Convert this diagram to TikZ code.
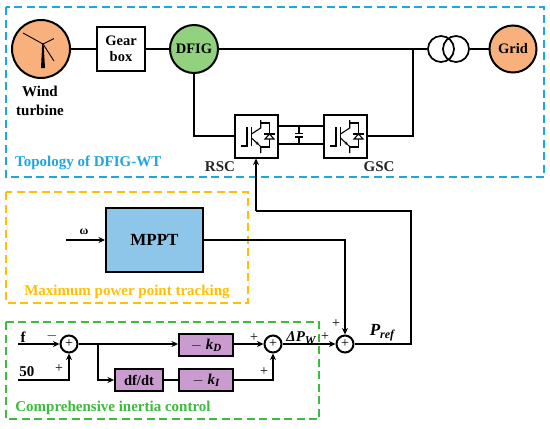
\documentclass[tikz,border=0pt]{standalone}
\usepackage{fontspec}
\setmainfont{Liberation Serif}
\usetikzlibrary{arrows.meta}
\definecolor{orangefill}{HTML}{F8B07C}
\definecolor{greenfill}{HTML}{92D27E}
\definecolor{bluefill}{HTML}{8EC6EA}
\definecolor{purplefill}{HTML}{C99BCF}
\definecolor{topoblue}{HTML}{1FA5E0}
\definecolor{mpptyellow}{HTML}{FFC000}
\definecolor{ctrlgreen}{HTML}{3DBB3D}
\newcommand{\fs}[1]{\fontsize{#1}{#1}\selectfont}
\tikzset{
  x=1pt,y=-1pt,
  wire/.style={line width=1.8pt,line join=miter},
  arrowwire/.style={wire,-{Stealth[length=6.5pt,width=6pt]}},
  block/.style={draw,line width=2pt,inner sep=0pt,anchor=center,font=\bfseries\fs{14.5}},
  disc/.style={draw,circle,line width=2pt,inner sep=0pt,font=\bfseries\fs{14.5}},
  sumnode/.style={draw,circle,line width=2pt,fill=white,inner sep=0pt,minimum size=17pt},
  lbl/.style={font=\bfseries\fs{15},inner sep=0pt,align=center},
  sign/.style={font=\fs{14},inner sep=0pt},
  dashbox/.style={line width=1.8pt,dash pattern=on 8pt off 4.5pt},
  igbtline/.style={line width=1.1pt},
}
\newcommand{\convsym}[1]{%
  \begin{scope}[shift={(#1)},igbtline]
    \draw (-15,10) -- (-9,10) -- (-9,-9);
    \draw[line width=1.4pt] (-4.5,-9) -- (-4.5,10);
    \draw (-4.5,-2) -- (4.7,-8) -- (4.7,-16);
    \draw[-{Stealth[length=3.5pt,width=3.5pt]}] (-4.5,2) -- (3,9);
    \draw (3,9) -- (4.7,10.5) -- (4.7,17);
    \draw (4.7,-13) -- (13.5,-13) -- (13.5,11) -- (4.7,11);
    \draw[line width=1.3pt] (8,-2) -- (18.5,-2);
    \draw[fill=white] (9,3) -- (18,3) -- (13.5,-2) -- cycle;
  \end{scope}}
\begin{document}
\begin{tikzpicture}
\useasboundingbox (0,0) rectangle (550,429);
\fill[white] (0,0) rectangle (550,429);

% dashed frames
\draw[dashbox,topoblue] (6,7) rectangle (544,177);
\draw[dashbox,mpptyellow] (6,192) rectangle (248,303);
\draw[dashbox,ctrlgreen] (6,322) rectangle (319,419);

% topology nodes
\node[disc,fill=orangefill,minimum size=58pt] (wt) at (41,49) {};
\node[block,fill=white,minimum width=48pt,minimum height=44pt,align=center] (gb) at (121,49) {Gear\\[2pt]box};
\node[disc,fill=greenfill,minimum size=48pt] (dfig) at (194,49) {DFIG};
\node[disc,fill=orangefill,minimum size=47pt] (grid) at (513,49) {Grid};
\node[block,fill=white,minimum width=43pt,minimum height=43pt] (rsc) at (256,136) {};
\node[block,fill=white,minimum width=43pt,minimum height=43pt] (gsc) at (345,136) {};
\coordinate (tap) at (413,49);
\coordinate (traL) at (441,49);
\coordinate (traR) at (456,49);
\node[draw,circle,line width=1.7pt,minimum size=26pt,inner sep=0pt] (t1) at (traL) {};
\node[draw,circle,line width=1.7pt,minimum size=26pt,inner sep=0pt] (t2) at (traR) {};

% turbine glyph
\fill (41,68) -- (45,68) -- (43.6,44) -- (42.2,44) -- cycle;
\draw[line width=0.9pt] (43,44) -- (23,33);
\draw[line width=0.9pt] (43,44) -- (54,38.5);
\draw[line width=0.9pt] (43,44) -- (54,61);

\draw[wire] (wt) -- (gb);
\draw[wire] (gb) -- (dfig);
\draw[wire] (dfig) -- (t1);
\draw[wire] (t2) -- (grid);
\draw[wire] (dfig.south) |- (rsc.west);
\draw[wire] (gsc.east) -| (tap);
\convsym{256,136}
\convsym{345,136}

% dc link
\coordinate (capT) at (299,126);
\coordinate (capB) at (299,144);
\draw[line width=1.5pt] (rsc.east |- capT) -- (gsc.west |- capT);
\draw[line width=1.5pt] (rsc.east |- capB) -- (gsc.west |- capB);
\draw[line width=1.1pt] (capT) -- (299,133.5);
\draw[line width=1.1pt] (capB) -- (299,137);
\draw[line width=1.3pt] (295,133.5) -- (303,133.5);
\draw[line width=1.3pt] (295,137) -- (303,137);

% topology labels
\node[lbl] (wtl) at (40,101) {Wind\\[4pt]turbine};
\node[font=\bfseries\fs{15},text=topoblue,anchor=west,inner sep=0pt] (tl) at (15,163) {Topology of DFIG-WT};
\node[font=\bfseries\fs{15},inner sep=0pt,text=black!85] (rl) at (220,167) {RSC};
\node[font=\bfseries\fs{15},inner sep=0pt,text=black!85] (gl) at (379,167) {GSC};

% MPPT
\node[block,fill=bluefill,minimum width=97pt,minimum height=64pt,font=\bfseries\fs{17}] (mppt) at (154.5,240) {MPPT};
\coordinate (omegain) at (66,240);
\draw[arrowwire] (omegain) -- (mppt.west);
\node[font=\bfseries\fs{12},inner sep=0pt] (om) at (84,232) {ω};
\node[font=\bfseries\fs{15},text=mpptyellow,inner sep=0pt] (ml) at (127,292) {Maximum power point tracking};

% control
\node[sumnode] (s1) at (69,344) {\fs{14}+};
\node[sumnode] (s2) at (273,344) {\fs{14}+};
\node[sumnode] (s3) at (345,344) {\fs{14}+};
\node[block,fill=purplefill,minimum width=54pt,minimum height=22pt] (kd) at (206,345) {\fs{15}$-$ \textit{k\raisebox{-2pt}{\fs{11}D}}};
\node[block,fill=purplefill,minimum width=48pt,minimum height=22pt] (df) at (139,380) {df/dt};
\node[block,fill=purplefill,minimum width=54pt,minimum height=22pt] (ki) at (206,380) {\fs{15}$-$ \textit{k\raisebox{-2pt}{\fs{11}I}}};
\coordinate (fin) at (18,344);
\coordinate (fiftyin) at (18,380);
\coordinate (branch) at (98,344);
\draw[arrowwire] (fin) -- (s1.west);
\draw[arrowwire] (fiftyin) -| (s1.south);
\draw[arrowwire] (s1.east) -- (kd.west |- s1.east);
\draw[arrowwire] (branch) |- (df.west);
\draw[wire] (df) -- (ki);
\draw[arrowwire] (kd.east |- s2.west) -- (s2.west);
\draw[arrowwire] (ki.east) -| (s2.south);
\draw[arrowwire] (s2.east) -- (s3.west);

% reference
\coordinate (prefC) at (411,344);
\coordinate (prefU) at (411,211);
\coordinate (rscU) at (256,211);
\draw[wire] (s3.east) -- (prefC) -- (prefU) -- (rscU);
\draw[arrowwire] (rscU) -- (rsc.south);
\draw[arrowwire] (mppt.east) -| (s3.north);

% control labels
\node[font=\bfseries\fs{15},inner sep=0pt] (fl) at (23,337) {f};
\node[font=\bfseries\fs{15},inner sep=0pt] (fifty) at (27,372) {50};
\node[sign] (m1) at (52,336) {$-$};
\node[sign] (p1) at (59,369) {+};
\node[sign] (p2) at (254,338) {+};
\node[sign] (p3) at (264,372) {+};
\node[sign] (p4) at (325,337) {+};
\node[sign] (p5) at (336,324) {+};
\node[font=\bfseries\itshape\fs{15},inner sep=0pt] (dp) at (301,338) {ΔP\raisebox{-3pt}{\fs{12}W}};
\node[font=\bfseries\itshape\fs{17},inner sep=0pt] (pr) at (382,333) {P\raisebox{-3pt}{\fs{12}ref}};
\node[font=\bfseries\fs{15},text=ctrlgreen,inner sep=0pt] (cl) at (113,408) {Comprehensive inertia control};
\end{tikzpicture}
\end{document}
